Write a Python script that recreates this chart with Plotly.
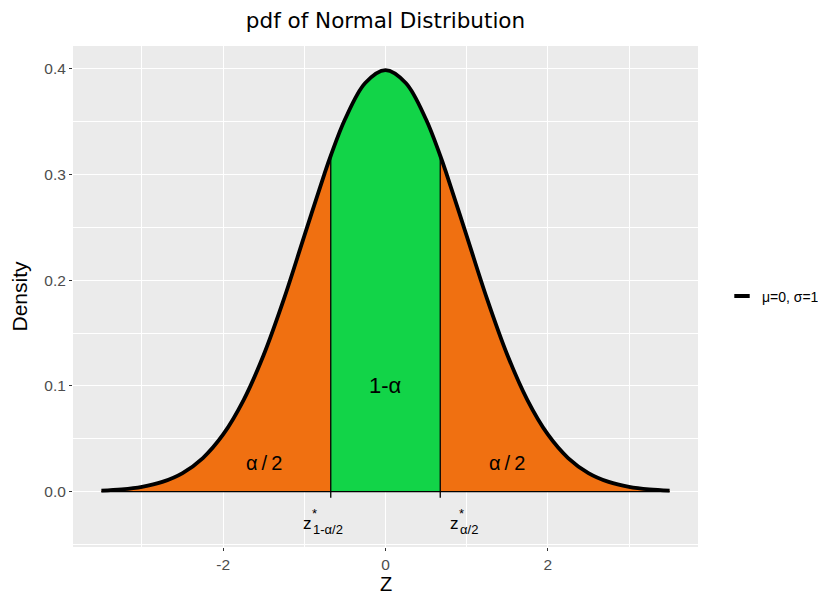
import plotly.graph_objects as go

# ---- data ----
z_vals = [-3.5, -3.25, -3.0, -2.75, -2.5, -2.25, -2.0, -1.75, -1.5, -1.25, -1.0, -0.75, -0.6745,
          -0.5, -0.25, 0.0, 0.25, 0.5, 0.6745, 0.75, 1.0, 1.25, 1.5, 1.75, 2.0, 2.25, 2.5, 2.75,
          3.0, 3.25, 3.5]
density = [0.0009, 0.0020, 0.0044, 0.0091, 0.0175, 0.0317, 0.0540, 0.0863, 0.1295, 0.1826,
           0.2420, 0.3011, 0.3178, 0.3521, 0.3867, 0.3989, 0.3867, 0.3521, 0.3178, 0.3011,
           0.2420, 0.1826, 0.1295, 0.0863, 0.0540, 0.0317, 0.0175, 0.0091, 0.0044, 0.0020, 0.0009]
z_crit = [-0.6745, 0.6745]
crit_height = 0.3178
x_ticks = [-2, 0, 2]
y_ticks = [0.0, 0.1, 0.2, 0.3, 0.4]
legend_label = "μ=0, σ=1"

ORANGE = "#F07011"
GREEN = "#12D448"

i_lo = z_vals.index(z_crit[0])
i_hi = z_vals.index(z_crit[1])

fig = go.Figure()

# left tail
fig.add_trace(go.Scatter(x=z_vals[:i_lo + 1], y=density[:i_lo + 1], fill="tozeroy",
                         fillcolor=ORANGE, mode="lines", line=dict(width=0, shape="spline"),
                         showlegend=False, hoverinfo="skip"))
# centre
fig.add_trace(go.Scatter(x=z_vals[i_lo:i_hi + 1], y=density[i_lo:i_hi + 1], fill="tozeroy",
                         fillcolor=GREEN, mode="lines", line=dict(width=0, shape="spline"),
                         showlegend=False, hoverinfo="skip"))
# right tail
fig.add_trace(go.Scatter(x=z_vals[i_hi:], y=density[i_hi:], fill="tozeroy",
                         fillcolor=ORANGE, mode="lines", line=dict(width=0, shape="spline"),
                         showlegend=False, hoverinfo="skip"))
# baseline
fig.add_trace(go.Scatter(x=[z_vals[0], z_vals[-1]], y=[0, 0], mode="lines",
                         line=dict(color="black", width=1.2), showlegend=False, hoverinfo="skip"))
# critical value segments
for zc in z_crit:
    fig.add_trace(go.Scatter(x=[zc, zc], y=[-0.006, crit_height], mode="lines",
                             line=dict(color="black", width=1.3), showlegend=False,
                             hoverinfo="skip"))
# density curve
fig.add_trace(go.Scatter(x=z_vals, y=density, mode="lines",
                         line=dict(color="black", width=3.8, shape="spline"),
                         showlegend=False, name=legend_label))
# legend key (short line, like ggplot)
fig.add_trace(go.Scatter(x=[None], y=[None], mode="markers", name=legend_label,
                         marker=dict(symbol="line-ew", size=11,
                                     line=dict(color="black", width=4)),
                         showlegend=True))

FONT = "Liberation Sans, Arial, sans-serif"
TITLE_FONT = "DejaVu Sans, Liberation Sans, sans-serif"
TS = "\u2009"

annots = [
    dict(x=0, y=0.1, text="1-α", font=dict(size=22)),
    dict(x=-1.5, y=0.027, text=f"α{TS}/{TS}2", font=dict(size=20)),
    dict(x=1.5, y=0.027, text=f"α{TS}/{TS}2", font=dict(size=20)),
]
# z labels built from pieces
labels = [(-1.015, "1-α/2"), (0.80, "α/2")]
for xl, sub in labels:
    annots.append(dict(x=xl, y=-0.0304, text="z", xanchor="left", yanchor="middle",
                       xshift=-2, font=dict(size=17)))
    annots.append(dict(x=xl, y=-0.0304, text="*", xanchor="left", yanchor="middle",
                       xshift=7, yshift=10, font=dict(size=13)))
    annots.append(dict(x=xl, y=-0.0304, text=sub, xanchor="left", yanchor="middle",
                       xshift=8, yshift=-6, font=dict(size=13)))
# axis titles
annots.append(dict(x=0.5, xref="paper", y=0, yref="paper", yshift=-37, text="Z",
                   xanchor="center", yanchor="middle", font=dict(size=20)))
annots.append(dict(x=0, xref="paper", y=0.5, yref="paper", xshift=-54, text="Density",
                   textangle=-90, xanchor="center", yanchor="middle", font=dict(size=21)))
for a in annots:
    a.setdefault("showarrow", False)
    a["font"]["color"] = "black"
    a["font"]["family"] = FONT
    fig.add_annotation(**a)

W, H = 818, 588
fig.update_layout(
    width=W, height=H,
    margin=dict(l=65, r=128, t=38, b=49, autoexpand=False),
    paper_bgcolor="white", plot_bgcolor="#EBEBEB",
    font=dict(family=FONT, color="#4D4D4D", size=15),
    title=dict(text="pdf of Normal Distribution", x=0.5, xref="paper", xanchor="center",
               y=1 - 12 / H, yref="container", yanchor="middle",
               font=dict(size=21.5, color="black", family=TITLE_FONT)),
    legend=dict(x=1.0384, y=0.5, xanchor="left", yanchor="middle", bgcolor="rgba(0,0,0,0)",
                font=dict(size=14, color="black"), itemwidth=30),
    showlegend=True,
)
fig.update_xaxes(range=[-3.85, 3.85], tickvals=x_ticks, ticktext=[str(t) for t in x_ticks],
                 showgrid=True, gridcolor="white", gridwidth=1.1, zeroline=False,
                 ticks="outside", ticklen=3, tickcolor="#333333", tickwidth=1,
                 minor=dict(dtick=1, tick0=0, showgrid=True, gridcolor="white", gridwidth=0.5,
                            ticks=""),
                 tickfont=dict(size=15.5, color="#4D4D4D"),
                 automargin=False, showline=False)
fig.update_yaxes(range=[-0.0525, 0.4217], tickvals=y_ticks,
                 ticktext=[f"{t:.1f}" for t in y_ticks],
                 showgrid=True, gridcolor="white", gridwidth=1.1, zeroline=False,
                 ticks="outside", ticklen=3, tickcolor="#333333", tickwidth=1,
                 minor=dict(dtick=0.05, tick0=0, showgrid=True, gridcolor="white",
                            gridwidth=0.5, ticks=""),
                 tickfont=dict(size=15.5, color="#4D4D4D"),
                 automargin=False, showline=False)

fig.write_html("out.html")
